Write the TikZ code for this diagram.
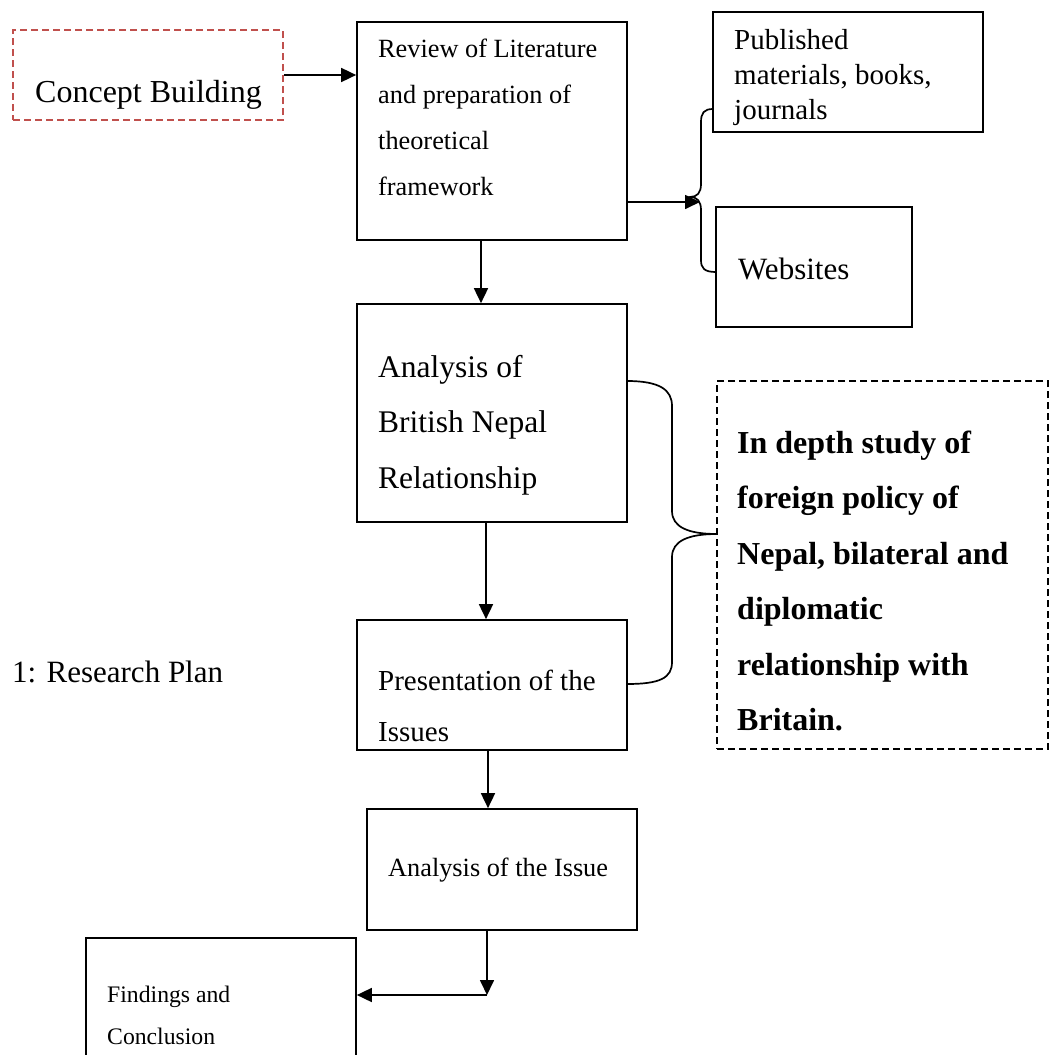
\documentclass[tikz,border=0pt]{standalone}
\usepackage{fontspec}
\setmainfont{Liberation Serif}
\usetikzlibrary{arrows.meta,calc}
\definecolor{ink}{HTML}{000000}
\definecolor{konzeptrot}{HTML}{C0504D}
\newcommand{\gross}{\fontsize{31.5}{55.5}\selectfont}
\newcommand{\mittel}{\fontsize{29}{35}\selectfont}
\newcommand{\klein}{\fontsize{26.3}{46}\selectfont}
\newcommand{\winzig}{\fontsize{23.7}{42}\selectfont}
\tikzset{kasten/.style={draw=ink,line width=1.7pt,inner sep=0,minimum width=270pt},
  beschrift/.style={anchor=base west,inner sep=0,align=left,text=ink},
  pfeil/.style={ink,line width=1.7pt,-{Triangle[length=15pt,width=14pt]}},
  klammer/.style={ink,line width=1.7pt},
  strich/.style={dash pattern=on 7pt off 4pt}}

\begin{document}
\begin{tikzpicture}[x=1pt,y=-1pt]
\clip (0,0) rectangle (1052,1055);
% kaesten
\node[kasten,draw=konzeptrot,strich,minimum height=90pt] (konzept) at (148,75) {};
\node[kasten,minimum height=218pt] (review) at (492,131) {};
\node[kasten,minimum height=120pt] (quellen) at (848,72) {};
\node[kasten,minimum width=196pt,minimum height=120pt] (web) at (814,267) {};
\node[kasten,minimum height=218pt] (analyse) at (492,413) {};
\node[kasten,strich,minimum width=331pt,minimum height=368pt] (studie) at (882.5,565) {};
\node[kasten,minimum height=130pt] (praes) at (492,685) {};
\node[kasten,minimum height=121pt] (issue) at (502,869.5) {};
\node[kasten,minimum height=142pt] (fazit) at (221,1009) {};
% texte (base = letzte zeile)
\node[beschrift,font=\fontsize{32}{40}\selectfont] (konzepttext) at (35,102) {Concept Building};
\node[beschrift,font=\klein] (reviewtext) at (378,195) {Review of Literature\\and preparation of\\theoretical\\framework};
\node[beschrift,font=\mittel] (quellentext) at (734,119) {Published\\materials, books,\\journals};
\node[beschrift,font=\fontsize{31}{35}\selectfont] (webtext) at (738,279) {Websites};
\node[beschrift,font=\gross] (analysetext) at (378,488) {Analysis of\\British Nepal\\Relationship};
\node[beschrift,font=\fontsize{32}{55.5}\selectfont\bfseries] (studietext) at (737,730.5) {In depth study of\\foreign policy of\\Nepal, bilateral and\\diplomatic\\relationship with\\Britain.};
\node[beschrift,font=\fontsize{29}{51}\selectfont] (praestext) at (378,741) {Presentation of the\\Issues};
\node[beschrift,font=\klein] (issuetext) at (388,876) {Analysis of the Issue};
\node[beschrift,font=\winzig] (fazittext) at (107,1044) {Findings and\\Conclusion};
\node[beschrift,font=\fontsize{31}{35}\selectfont] (plan) at (12,682) {1: Research Plan};
% klammern
\coordinate (spitze) at (700,202);
\coordinate (knick) at (487,995);
\draw[klammer] (713,109) .. controls (704,109) and (701,113) .. (701,122) -- (701,184)
  .. controls (701,193) and (697,197) .. (690,197) .. controls (697,197) and (701,201) .. (701,210)
  -- (701,260) .. controls (701,268) and (704,272) .. (716,272);
\draw[klammer] (627,381) .. controls (660,381) and (672,390) .. (672,406) -- (672,511)
  .. controls (672,527) and (688,534) .. (717,534) .. controls (688,534) and (672,541) .. (672,557)
  -- (672,662) .. controls (672,678) and (660,684) .. (627,684);
% pfeile
\draw[pfeil] (konzept.east) -- (konzept.east -| review.west);
\draw[pfeil] ([yshift=-71pt]review.east) -- (spitze);
\draw[pfeil] ([xshift=-11pt]review.south) -- ([xshift=-11pt]analyse.north);
\draw[pfeil] ([xshift=-6pt]analyse.south) -- ([xshift=-6pt]praes.north);
\draw[pfeil] ([xshift=-4pt]praes.south) -- ([xshift=-4pt]praes.south |- issue.north);
\draw[pfeil] ([xshift=-15pt]issue.south) -- (knick);
\draw[pfeil] (knick) -- (knick -| fazit.east);
\end{tikzpicture}
\end{document}
